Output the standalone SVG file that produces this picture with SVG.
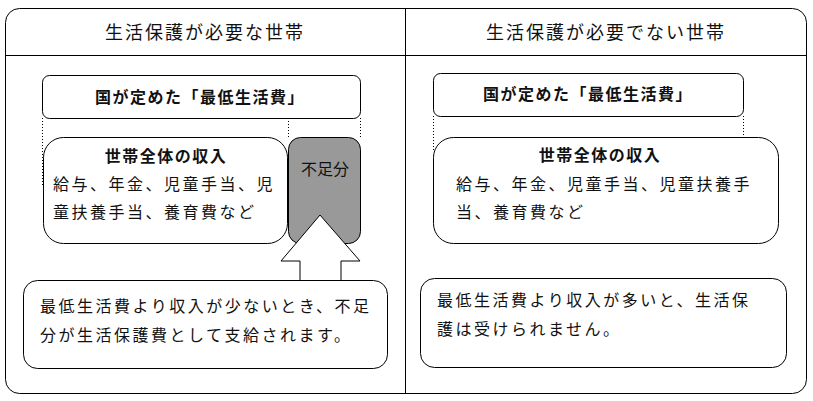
<svg xmlns="http://www.w3.org/2000/svg" width="813" height="401" viewBox="0 0 813 401">
<style>
text{font-family:"Liberation Serif","Noto Sans CJK JP",serif;fill:#111;font-size:16px;letter-spacing:2.5px}
.t{font-size:18px;letter-spacing:2px;text-anchor:middle}
.h{font-size:16px;letter-spacing:1.5px;font-weight:bold;text-anchor:middle}
.b{fill:#fff;stroke:#000;stroke-width:1}
.d{stroke:#000;stroke-width:1;stroke-dasharray:1 2;fill:none}
</style>
<rect id="frame" x="5.5" y="8.5" width="801" height="385" rx="14" fill="#fff" stroke="#000"/>
<g id="connectors">
<line x1="5.5" y1="55.5" x2="806.5" y2="55.5" stroke="#000"/>
<line x1="405.5" y1="8.5" x2="405.5" y2="393.5" stroke="#000"/>
<line class="d" x1="42.5" y1="118" x2="42.5" y2="185"/>
<line class="d" x1="288.5" y1="118" x2="288.5" y2="137"/>
<line class="d" x1="360.5" y1="118" x2="360.5" y2="137"/>
<line class="d" x1="433.5" y1="116" x2="433.5" y2="150"/>
<line class="d" x1="743.5" y1="116" x2="743.5" y2="137"/>
</g>
<text class="t" x="205" y="39">生活保護が必要な世帯</text>
<text class="t" x="606" y="39">生活保護が必要でない世帯</text>
<g id="left-min"><rect class="b" x="42.5" y="75.5" width="318" height="43" rx="7"/><text class="h" x="200" y="103">国が定めた「最低生活費」</text></g>
<g id="left-income"><rect class="b" x="43.5" y="137.5" width="244" height="106" rx="20"/>
<text class="h" x="166" y="162">世帯全体の収入</text>
<text x="53" y="190">給与、年金、児童手当、児</text>
<text x="53" y="218">童扶養手当、養育費など</text></g>
<g id="shortfall"><rect x="288.5" y="137.5" width="72" height="106" rx="12" fill="#999" stroke="#000"/><text x="325" y="175" text-anchor="middle" style="letter-spacing:0">不足分</text></g>
<g id="arrow"><polygon points="320,215 360,261 341,261 341,290 300,290 300,261 281,261" fill="#fff" stroke="#000"/></g>
<g id="left-note"><rect class="b" x="23.5" y="280.5" width="364" height="88" rx="14"/>
<text x="40" y="312">最低生活費より収入が少ないとき、不足</text>
<text x="40" y="341">分が生活保護費として支給されます。</text></g>
<g id="right-min"><rect class="b" x="433.5" y="73.5" width="310" height="43" rx="7"/><text class="h" x="588" y="100">国が定めた「最低生活費」</text></g>
<g id="right-income"><rect class="b" x="433.5" y="137.5" width="345" height="106" rx="20"/>
<text class="h" x="600" y="161">世帯全体の収入</text>
<text x="456" y="190">給与、年金、児童手当、児童扶養手</text>
<text x="456" y="218">当、養育費など</text></g>
<g id="right-note"><rect class="b" x="420.5" y="278.5" width="366" height="89" rx="14"/>
<text x="437" y="306">最低生活費より収入が多いと、生活保</text>
<text x="437" y="335">護は受けられません。</text></g>
</svg>
